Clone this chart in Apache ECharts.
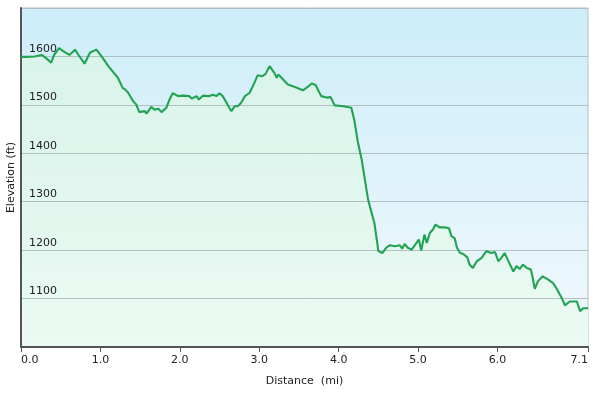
<!DOCTYPE html>
<html>
<head>
<meta charset="utf-8">
<script src="https://cdn.jsdelivr.net/npm/echarts@6/dist/echarts.min.js"></script>
<style>html,body{margin:0;padding:0;background:#fff}#c{width:593px;height:393px}</style>
</head>
<body>
<div id="c"></div>
<script>
const distances = [0.00,0.07,0.17,0.26,0.32,0.38,0.42,0.48,0.53,0.61,0.68,0.72,0.80,0.87,0.95,1.01,1.10,1.22,1.28,1.31,1.35,1.41,1.45,1.49,1.56,1.58,1.64,1.68,1.73,1.77,1.83,1.87,1.91,1.98,2.04,2.12,2.15,2.21,2.24,2.29,2.36,2.42,2.46,2.50,2.54,2.59,2.63,2.65,2.69,2.73,2.77,2.82,2.88,2.94,2.98,3.04,3.08,3.13,3.19,3.22,3.24,3.28,3.36,3.45,3.55,3.61,3.66,3.71,3.78,3.85,3.90,3.95,4.06,4.16,4.20,4.24,4.29,4.33,4.37,4.41,4.45,4.48,4.50,4.55,4.60,4.64,4.71,4.77,4.80,4.83,4.87,4.92,4.98,5.01,5.04,5.08,5.11,5.15,5.19,5.22,5.27,5.34,5.39,5.42,5.46,5.49,5.53,5.57,5.62,5.65,5.69,5.74,5.80,5.86,5.92,5.97,6.01,6.05,6.09,6.13,6.20,6.24,6.28,6.32,6.37,6.42,6.44,6.47,6.51,6.57,6.64,6.70,6.74,6.81,6.85,6.91,7.00,7.04,7.08,7.14];
const elevations = [1599,1599,1600,1603,1596,1587,1604,1617,1611,1603,1614,1604,1585,1608,1614,1601,1580,1556,1535,1532,1525,1508,1501,1485,1487,1482,1496,1490,1492,1485,1494,1511,1524,1518,1519,1518,1513,1518,1511,1519,1518,1521,1518,1524,1518,1504,1492,1487,1497,1497,1504,1518,1525,1546,1561,1559,1564,1580,1566,1556,1563,1556,1542,1537,1530,1537,1544,1541,1518,1515,1516,1499,1497,1494,1466,1425,1387,1346,1305,1280,1256,1222,1198,1194,1205,1210,1208,1210,1203,1213,1205,1201,1215,1222,1199,1232,1215,1236,1243,1253,1247,1247,1245,1229,1225,1205,1194,1192,1185,1170,1163,1177,1184,1198,1194,1196,1177,1184,1194,1180,1156,1167,1161,1170,1163,1160,1146,1120,1136,1146,1139,1132,1122,1101,1086,1094,1094,1074,1080,1080];
const xTicks = [0,1,2,3,4,5,6,7.14];
const yMin = 1000, yMax = 1700, yStep = 100;

const chart = echarts.init(document.getElementById('c'), null, {renderer:'canvas'});
const font = 'DejaVu Sans';
const pts = distances.map((d,i) => [d, elevations[i]]);
chart.setOption({
  animation: false,
  grid: {
    left: 21, right: 5, top: 8, bottom: 46,
    outerBoundsMode: 'none', containLabel: false,
    show: true,
    borderColor: '#b8bfc2', borderWidth: 1,
    backgroundColor: new echarts.graphic.LinearGradient(0,0,0,1,[
      {offset:0,color:'#cdedfa'},{offset:1,color:'#f1f9fc'}])
  },
  xAxis: {
    type: 'value', min: 0, max: 7.14, z: 5,
    name: 'Distance  (mi)', nameLocation: 'middle', nameGap: 29,
    nameTextStyle: {fontFamily: font, fontSize: 11, color: '#222'},
    axisLine: {show: true, lineStyle: {color: '#555', width: 2}},
    axisTick: {show: true, length: 5, lineStyle: {color: '#555'}, customValues: xTicks},
    axisLabel: {fontFamily: font, fontSize: 11, color: '#222', margin: 8, customValues: xTicks,
      alignMinLabel: 'left', alignMaxLabel: 'right',
      formatter: v => v.toFixed(1)},
    splitLine: {show: false}
  },
  yAxis: [{
    type: 'value', min: yMin, max: yMax, interval: yStep, z: 2,
    name: 'Elevation (ft)', nameLocation: 'middle', nameGap: 4,
    nameTextStyle: {fontFamily: font, fontSize: 11, color: '#222'},
    axisLine: {show: true, lineStyle: {color: '#555', width: 2}},
    axisTick: {show: false},
    axisLabel: {show: false},
    splitLine: {show: true, lineStyle: {color: '#b0bfc3', width: 1}}
  }, {
    type: 'value', min: yMin, max: yMax, interval: yStep, z: 6, position: 'left',
    axisLine: {show: false},
    axisTick: {show: false},
    axisLabel: {inside: true, fontFamily: font, fontSize: 11, color: '#222', margin: 8,
      verticalAlign: 'bottom', padding: [0,0,2,0],
      formatter: v => (v === yMin || v === yMax) ? '' : String(v)},
    splitLine: {show: false}
  }],
  series: [{
    type: 'line', z: 1,
    data: pts,
    showSymbol: false,
    lineStyle: {width: 0, opacity: 0},
    areaStyle: {
      origin: 'start', opacity: 1,
      color: new echarts.graphic.LinearGradient(0,0,0,1,[
        {offset:0,color:'#d9f4ea'},{offset:1,color:'#ebfaf3'}])
    }
  }, {
    type: 'line', z: 4,
    data: pts,
    showSymbol: false,
    lineStyle: {color: '#22a352', width: 2.1}
  }]
});
</script>
</body>
</html>
